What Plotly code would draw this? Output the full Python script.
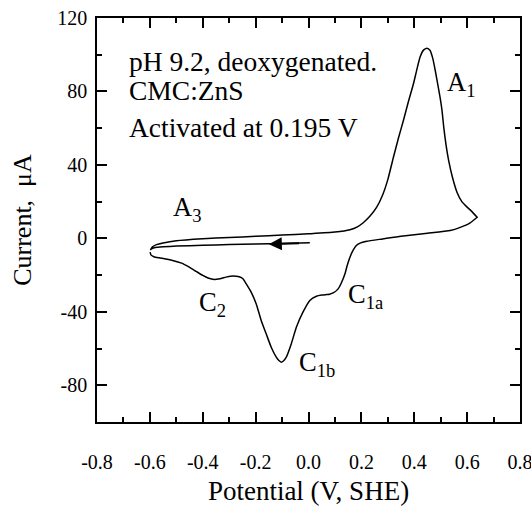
import plotly.graph_objects as go

# --- data (potential in V vs SHE, current in µA) ---
# first sweep: from start potential toward negative direction
sweep1_x = [0.005, -0.1, -0.2, -0.3, -0.4, -0.5, -0.55, -0.58, -0.592, -0.598]
sweep1_y = [-2.4, -2.8, -3.1, -3.4, -3.8, -4.2, -4.6, -5.0, -5.6, -6.3]

# anodic sweep: -0.6 V -> 0.64 V (A3, A1)
sweep2_x = [-0.598, -0.59, -0.575, -0.55, -0.5, -0.4, -0.3, -0.2, -0.1, 0.0, 0.1,
            0.157, 0.185, 0.207, 0.232, 0.258, 0.28, 0.30, 0.321, 0.34, 0.359,
            0.378, 0.397, 0.41, 0.422, 0.435, 0.448, 0.46, 0.47, 0.48, 0.49,
            0.498, 0.505, 0.512, 0.52, 0.53, 0.545, 0.562, 0.58, 0.60, 0.62, 0.638]
sweep2_y = [-6.3, -4.6, -3.4, -2.5, -1.3, -0.2, 0.5, 1.1, 1.8, 2.5, 3.4,
            4.7, 6.3, 8.5, 12.0, 17.0, 23.5, 32.0, 44.0, 54.5, 64.2,
            74.5, 84.2, 92.0, 98.7, 102.5, 103.5, 102.3, 98.0, 91.0, 83.0,
            76.5, 69.7, 60.0, 51.0, 42.5, 33.0, 25.0, 20.0, 17.0, 14.3, 11.5]

# cathodic sweep: 0.64 V -> -0.6 V (C1a, C1b, C2)
sweep3_x = [0.638, 0.61, 0.574, 0.536, 0.45, 0.35, 0.28, 0.22, 0.195, 0.18, 0.165,
            0.155, 0.145, 0.138, 0.125, 0.112, 0.095, 0.08, 0.068, 0.05, 0.03, 0.005,
            -0.021, -0.046, -0.065, -0.084, -0.095, -0.103, -0.112, -0.122, -0.141,
            -0.160, -0.179, -0.198, -0.217, -0.236, -0.248, -0.262, -0.274, -0.295,
            -0.312, -0.335, -0.356, -0.38, -0.40, -0.425, -0.451, -0.48, -0.514,
            -0.54, -0.565, -0.585, -0.596, -0.599]
sweep3_y = [11.5, 8.3, 6.0, 4.3, 2.8, 1.2, -0.3, -1.6, -2.6, -4.0, -7.5,
            -11.0, -15.5, -19.3, -24.0, -27.5, -29.6, -30.4, -30.6, -30.9, -31.5, -33.8,
            -40.2, -48.4, -57.4, -64.7, -66.8, -67.4, -66.5, -64.7, -59.3,
            -52.0, -44.7, -35.6, -29.3, -24.7, -22.0, -20.9, -20.6, -20.6,
            -21.1, -22.0, -22.4, -21.6, -20.2, -18.0, -15.7, -13.5, -12.0,
            -11.2, -10.6, -10.0, -9.0, -7.5]

curve_x = sweep1_x + sweep2_x + sweep3_x
curve_y = sweep1_y + sweep2_y + sweep3_y

x_ticks = [-0.8, -0.6, -0.4, -0.2, 0.0, 0.2, 0.4, 0.6, 0.8]
x_tick_labels = ["-0.8", "-0.6", "-0.4", "-0.2", "0.0", "0.2", "0.4", "0.6", "0.8"]
y_ticks = [-80, -40, 0, 40, 80, 120]
y_tick_labels = ["-80", "-40", "0", "40", "80", "120"]

# peak labels: (text, x, y)
peak_labels = [
    ("A<sub>1</sub>", 0.515, 84),
    ("A<sub>3</sub>", -0.52, 16),
    ("C<sub>2</sub>", -0.42, -36),
    ("C<sub>1a</sub>", 0.14, -31.5),
    ("C<sub>1b</sub>", -0.045, -68.5),
]
info_lines = ["pH 9.2, deoxygenated.", "CMC:ZnS", "Activated at 0.195 V"]
info_y = [96.5, 80.5, 60.5]

FONT = "Liberation Serif"

fig = go.Figure()
fig.add_trace(go.Scatter(x=curve_x, y=curve_y, mode="lines",
                         line=dict(color="black", width=1.5, shape="spline", smoothing=0.5),
                         showlegend=False, hoverinfo="skip"))

for text, xv, yv in peak_labels:
    fig.add_annotation(x=xv, y=yv, text=text, showarrow=False, xanchor="left",
                       yanchor="middle", font=dict(family=FONT, size=26.5, color="black"))
for text, yv in zip(info_lines, info_y):
    fig.add_annotation(x=-0.686, y=yv, text=text, showarrow=False, xanchor="left",
                       yanchor="middle", font=dict(family=FONT, size=27.5, color="black"))

# scan direction arrow
fig.add_annotation(x=-0.15, y=-3.2, ax=-0.03, ay=-2.6, xref="x", yref="y",
                   axref="x", ayref="y", text="", showarrow=True, arrowhead=2,
                   arrowsize=1.3, arrowwidth=2, arrowcolor="black")

axis_common = dict(showline=True, linecolor="black", linewidth=1.5, mirror="ticks",
                   ticks="inside", ticklen=10, tickwidth=1.5, tickcolor="black",
                   showgrid=False, zeroline=False, automargin=False,
                   ticklabeloverflow="allow",
                   tickfont=dict(family=FONT, size=20, color="black"))

fig.update_xaxes(range=[-0.8, 0.8], tickvals=x_ticks, ticktext=x_tick_labels,
                 minor=dict(ticks="inside", ticklen=5, tickwidth=1.5, tickcolor="black", dtick=0.1, tick0=0),
                 title=dict(text="Potential (V, SHE)", font=dict(family=FONT, size=27, color="black"), standoff=14),
                 ticklabelstandoff=21, **axis_common)
fig.update_yaxes(range=[-100, 120], tickvals=y_ticks, ticktext=y_tick_labels,
                 minor=dict(ticks="inside", ticklen=5, tickwidth=1.5, tickcolor="black", dtick=20, tick0=0),
                 title=dict(text="Current,\u00a0 μA", font=dict(family=FONT, size=26, color="black"), standoff=18),
                 ticklabelstandoff=4, **axis_common)

fig.update_layout(width=531, height=506, plot_bgcolor="white", paper_bgcolor="white",
                  margin=dict(l=97, r=11, t=18, b=84), showlegend=False,
                  font=dict(family=FONT))

fig.write_html("out.html", config={"displayModeBar": False},
               post_script="document.body.style.margin='0';document.body.style.overflow='hidden';")
